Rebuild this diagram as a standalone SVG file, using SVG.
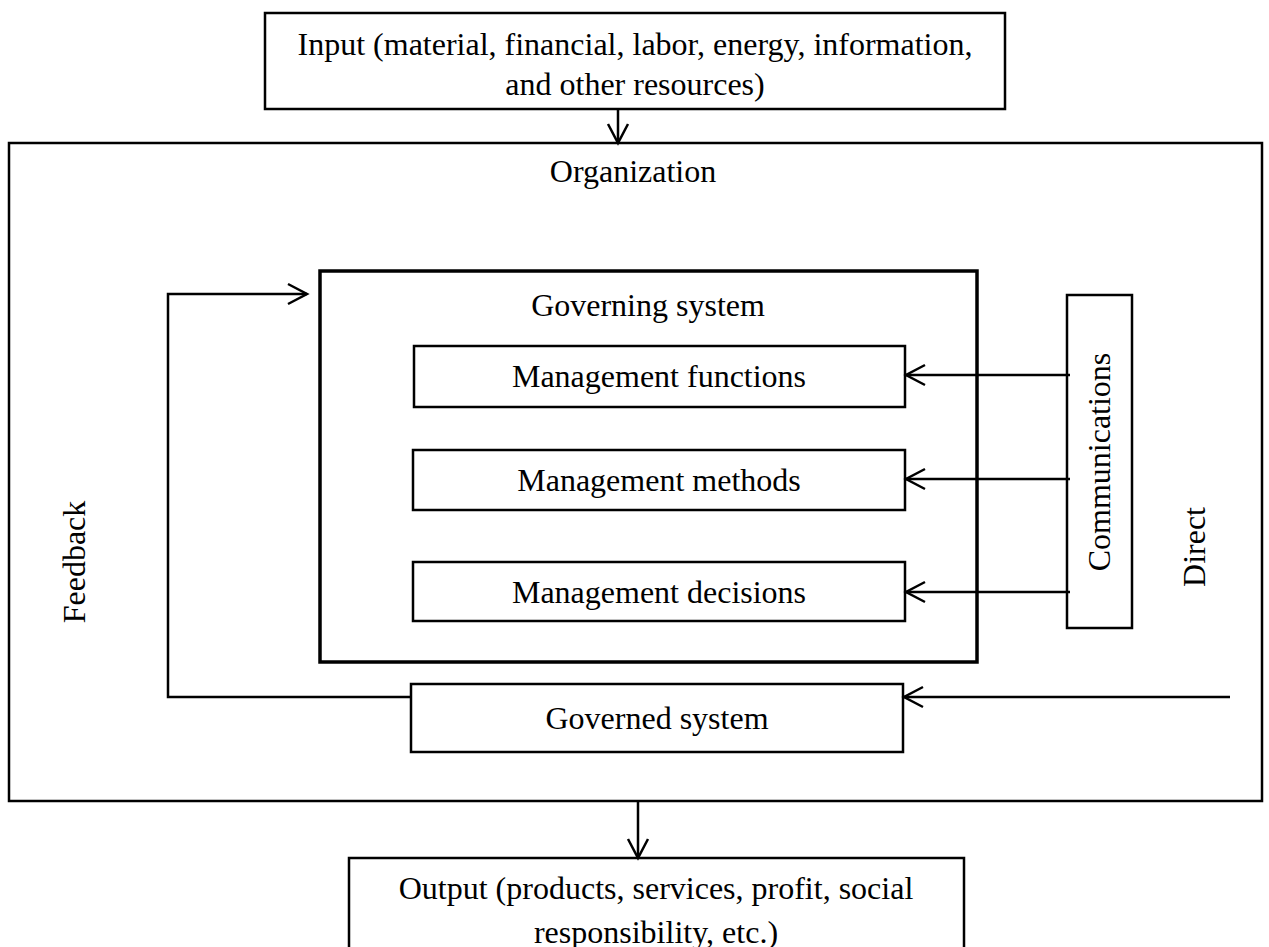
<svg xmlns="http://www.w3.org/2000/svg" width="1269" height="947" viewBox="0 0 1269 947">
<style>
text{font-family:"Liberation Serif","Times New Roman",serif;font-size:32px;fill:#000;text-anchor:middle}
.box{fill:#fff;stroke:#000;stroke-width:2.5}
.thick{fill:none;stroke:#000;stroke-width:3.5}
.ln{fill:none;stroke:#000;stroke-width:2.5}
</style>
<defs>
<marker id="arr" markerUnits="userSpaceOnUse" markerWidth="30" markerHeight="30" viewBox="-25 -15 30 30" refX="0" refY="0" orient="auto">
<path d="M-19,-10 L0,0 L-19,10" fill="none" stroke="#000" stroke-width="2.5"/>
</marker>
</defs>
<rect width="1269" height="947" fill="#fff"/>
<g id="organization">
<rect class="box" x="9" y="143" width="1253" height="658"/>
<text x="633" y="182">Organization</text>
</g>
<g id="input">
<rect class="box" x="265" y="13" width="740" height="96"/>
<text x="635" y="55">Input (material, financial, labor, energy, information,</text>
<text x="635" y="95">and other resources)</text>
</g>
<g id="output">
<rect class="box" x="349" y="858" width="615" height="110"/>
<text x="656" y="899">Output (products, services, profit, social</text>
<text x="656" y="943">responsibility, etc.)</text>
</g>
<g id="governing-system">
<rect class="thick" x="320" y="271" width="657" height="391"/>
<text x="648" y="316">Governing system</text>
</g>
<g id="management-functions">
<rect class="box" x="414" y="346" width="491" height="61"/>
<text x="659" y="387">Management functions</text>
</g>
<g id="management-methods">
<rect class="box" x="413" y="450" width="492" height="60"/>
<text x="659" y="491">Management methods</text>
</g>
<g id="management-decisions">
<rect class="box" x="413" y="562" width="492" height="59"/>
<text x="659" y="603">Management decisions</text>
</g>
<g id="governed-system">
<rect class="box" x="411" y="684" width="492" height="68"/>
<text x="657" y="729">Governed system</text>
</g>
<g id="communications">
<rect class="box" x="1067" y="295" width="65" height="333"/>
<text transform="translate(1110,462) rotate(-90)" x="0" y="0">Communications</text>
</g>
<g id="label-direct">
<text transform="translate(1205,547) rotate(-90)" x="0" y="0">Direct</text>
</g>
<g id="label-feedback">
<text transform="translate(85,562) rotate(-90)" x="0" y="0">Feedback</text>
</g>
<g id="connectors">
<line class="ln" x1="618" y1="109" x2="618" y2="143" marker-end="url(#arr)"/>
<line class="ln" x1="638" y1="801" x2="638" y2="858" marker-end="url(#arr)"/>
<line class="ln" x1="1070" y1="375" x2="906" y2="375" marker-end="url(#arr)"/>
<line class="ln" x1="1070" y1="479" x2="906" y2="479" marker-end="url(#arr)"/>
<line class="ln" x1="1070" y1="592" x2="906" y2="592" marker-end="url(#arr)"/>
<line class="ln" x1="1230" y1="697" x2="904" y2="697" marker-end="url(#arr)"/>
<polyline class="ln" points="411,697 168,697 168,294 307,294" marker-end="url(#arr)"/>
</g>
</svg>
